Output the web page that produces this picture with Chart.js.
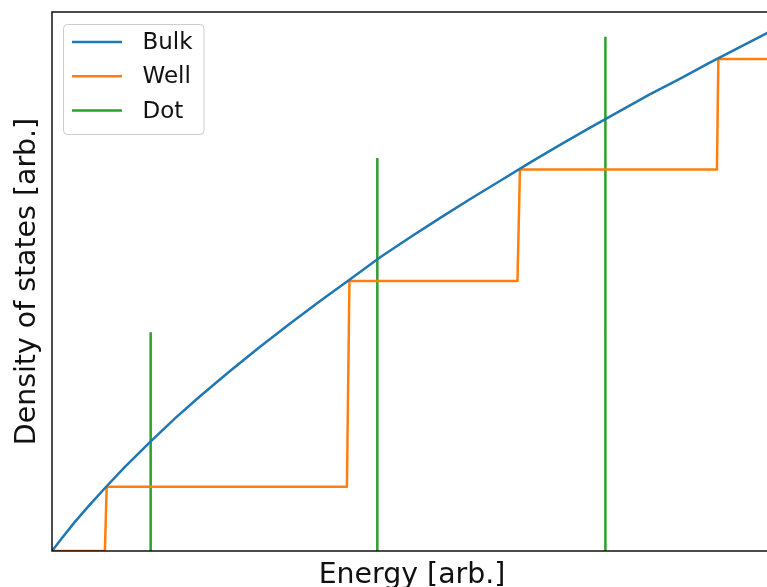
<!DOCTYPE html>
<html>
<head>
<meta charset="utf-8">
<script src="https://cdn.jsdelivr.net/npm/chart.js@4.4.1/dist/chart.umd.min.js"></script>
<style>
  html, body { margin: 0; padding: 0; background: #ffffff; overflow: hidden; }
  #wrap { position: absolute; left: 0; top: 0; width: 776px; height: 587px; }
</style>
</head>
<body>
<div id="wrap"><canvas id="dos" width="776" height="587"></canvas></div>
<script>
// Density of states for bulk (3D), quantum well (2D) and quantum dot (0D)
const seriesNames = ['Bulk', 'Well', 'Dot'];
const seriesColors = ['#1f77b4', '#ff7f0e', '#2ca02c'];
const xTitle = 'Energy [arb.]';
const yTitle = 'Density of states [arb.]';

// Bulk: smooth square-root-like rise
const bulkEnergy = [0, 0.014, 0.032, 0.053, 0.077, 0.102, 0.137, 0.172, 0.207, 0.249,
  0.291, 0.333, 0.375, 0.417, 0.459, 0.501, 0.543, 0.585, 0.627, 0.669,
  0.710, 0.752, 0.794, 0.836, 0.878, 0.920, 0.962, 1.0, 1.007];
const bulkDos = [0, 0.024, 0.054, 0.086, 0.121, 0.156, 0.202, 0.246, 0.287, 0.334,
  0.379, 0.422, 0.464, 0.504, 0.545, 0.582, 0.618, 0.653, 0.687, 0.721,
  0.753, 0.785, 0.816, 0.847, 0.876, 0.906, 0.935, 0.961, 0.966];

// Well: staircase, one step per subband edge
const wellEnergy = [0, 0.074, 0.0765, 0.4125, 0.416, 0.651, 0.6545, 0.930, 0.932, 1.007];
const wellDos = [0, 0, 0.119, 0.119, 0.501, 0.501, 0.708, 0.708, 0.913, 0.913];

// Dot: discrete levels drawn as spikes
const dotEnergy = [0.138, 0.455, 0.774];
const dotDos = [0.406, 0.729, 0.954];

const toPoints = (xs, ys) => xs.map((x, i) => ({ x: x, y: ys[i] }));
const dotPoints = [];
dotEnergy.forEach((e, i) => {
  dotPoints.push({ x: e, y: 0 }, { x: e, y: dotDos[i] }, { x: e, y: null });
});

const FONT = '"DejaVu Sans", "Liberation Sans", sans-serif';

// Axes frame and axis titles
const framePlugin = {
  id: 'frame',
  afterDatasetsDraw(chart) {
    const { ctx, chartArea: a } = chart;
    ctx.save();
    ctx.strokeStyle = '#000000';
    ctx.lineWidth = 1.4;
    ctx.strokeRect(a.left, a.top, a.right - a.left, a.bottom - a.top);
    ctx.fillStyle = '#111111';
    ctx.font = '28.4px ' + FONT;
    ctx.textAlign = 'center';
    ctx.textBaseline = 'alphabetic';
    ctx.fillText(xTitle, (a.left + a.right) / 2, 582.5);
    ctx.translate(35, (a.top + a.bottom) / 2);
    ctx.rotate(-Math.PI / 2);
    ctx.fillText(yTitle, 0, 0);
    ctx.restore();
  }
};

// Legend box in the upper-left corner of the axes
const legendPlugin = {
  id: 'boxLegend',
  afterDraw(chart) {
    const { ctx } = chart;
    const x0 = 63.5, y0 = 24.5, w = 140.5, h = 110, r = 4;
    ctx.save();
    ctx.beginPath();
    ctx.roundRect(x0, y0, w, h, r);
    ctx.fillStyle = 'rgba(255,255,255,0.8)';
    ctx.fill();
    ctx.strokeStyle = '#cccccc';
    ctx.lineWidth = 1;
    ctx.stroke();
    ctx.font = '23px ' + FONT;
    ctx.textBaseline = 'middle';
    ctx.textAlign = 'left';
    chart.data.datasets.forEach((ds, i) => {
      const yy = 42 + i * 34.3;
      ctx.beginPath();
      ctx.moveTo(72, yy);
      ctx.lineTo(122, yy);
      ctx.strokeStyle = ds.borderColor;
      ctx.lineWidth = 2.5;
      ctx.stroke();
      ctx.fillStyle = '#111111';
      ctx.fillText(ds.label, 142.5, yy + 1);
    });
    ctx.restore();
  }
};

const lineStyle = {
  borderWidth: 2.5,
  pointRadius: 0,
  pointHoverRadius: 0,
  tension: 0,
  fill: false,
  borderJoinStyle: 'round',
  spanGaps: false
};

new Chart(document.getElementById('dos'), {
  type: 'line',
  data: {
    datasets: [
      Object.assign({ label: seriesNames[0], data: toPoints(bulkEnergy, bulkDos), borderColor: seriesColors[0] }, lineStyle),
      Object.assign({ label: seriesNames[1], data: toPoints(wellEnergy, wellDos), borderColor: seriesColors[1] }, lineStyle),
      Object.assign({ label: seriesNames[2], data: dotPoints, borderColor: seriesColors[2], borderCapStyle: 'butt' }, lineStyle)
    ]
  },
  options: {
    responsive: false,
    animation: false,
    devicePixelRatio: 1,
    layout: { padding: { left: 52, top: 12, right: 4, bottom: 36 } },
    plugins: { legend: { display: false }, tooltip: { enabled: false } },
    scales: {
      x: { type: 'linear', min: 0, max: 1.007, display: false },
      y: { type: 'linear', min: 0, max: 1, display: false }
    }
  },
  plugins: [framePlugin, legendPlugin]
});
</script>
</body>
</html>
